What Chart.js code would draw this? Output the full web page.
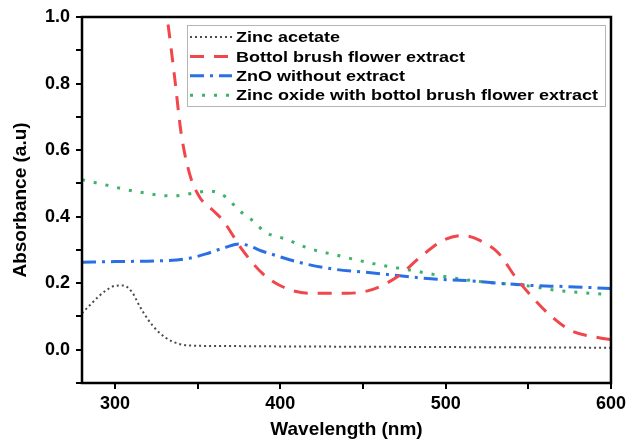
<!DOCTYPE html>
<html>
<head>
<meta charset="utf-8">
<script src="https://cdn.jsdelivr.net/npm/chart.js@4"></script>
<style>
  html, body { margin: 0; padding: 0; background: #fff; }
  #wrap { width: 630px; height: 441px; }
</style>
</head>
<body>
<div id="wrap"><canvas id="myChart" width="630" height="441"></canvas></div>
<script>
// Zinc acetate
const acetateWl = [280, 285, 290, 295, 300, 305, 310, 315, 320, 325, 330, 335, 340, 350, 370, 400, 450, 500, 550, 600];
const acetateAbs = [0.11, 0.135, 0.16, 0.18, 0.192, 0.193, 0.175, 0.13, 0.09, 0.06, 0.038, 0.024, 0.016, 0.012, 0.011, 0.01, 0.009, 0.008, 0.007, 0.006];

// Bottol brush flower extract
const brushWl = [328, 332, 336, 340, 345, 351, 359, 365, 377, 389, 401, 417, 441, 455, 471, 485, 499, 510, 520, 532, 542, 552, 564, 576, 592, 600];
const brushAbs = [1.12, 0.98, 0.82, 0.65, 0.53, 0.46, 0.42, 0.39, 0.30, 0.23, 0.19, 0.17, 0.17, 0.18, 0.22, 0.28, 0.33, 0.343, 0.33, 0.29, 0.22, 0.16, 0.10, 0.057, 0.037, 0.03];

// ZnO without extract
const znoWl = [280, 300, 331, 345, 355, 367, 375, 391, 411, 431, 451, 471, 491, 512, 532, 552, 572, 600];
const znoAbs = [0.263, 0.265, 0.268, 0.275, 0.288, 0.308, 0.318, 0.293, 0.263, 0.243, 0.233, 0.223, 0.213, 0.208, 0.2, 0.193, 0.19, 0.184];

// Zinc oxide with bottol brush flower extract
const greenWl = [280, 291, 311, 335, 347, 357, 367, 375, 383, 391, 403, 417, 435, 457, 480, 502, 524, 548, 568, 592, 600];
const greenAbs = [0.511, 0.499, 0.477, 0.462, 0.47, 0.477, 0.459, 0.419, 0.389, 0.353, 0.333, 0.305, 0.283, 0.258, 0.238, 0.218, 0.203, 0.193, 0.178, 0.168, 0.165];

const seriesLabels = ['Zinc acetate', 'Bottol brush flower extract', 'ZnO without extract', 'Zinc oxide with bottol brush flower extract'];

function pts(xs, ys) {
    return xs.map((x, i) => ({ x: x, y: ys[i] }));
}

const fontFam = '"Liberation Sans", Arial, Helvetica, sans-serif';

// marco negro alrededor del area
const framePlugin = {
    id: 'frame',
    afterDraw(chart) {
        const { ctx, chartArea: a } = chart;
        ctx.save();
        ctx.strokeStyle = '#000';
        ctx.lineWidth = 2.5;
        ctx.strokeRect(a.left, a.top, a.right - a.left, a.bottom - a.top);
        ctx.restore();
    }
};

// leyenda dentro del grafico, con caja gris
const boxLegend = {
    id: 'boxLegend',
    afterDraw(chart) {
        const ctx = chart.ctx;
        const x0 = 187, y0 = 25, x1 = 605, y1 = 106;
        ctx.save();
        ctx.fillStyle = '#fff';
        ctx.fillRect(x0, y0, x1 - x0, y1 - y0);
        ctx.strokeStyle = '#b5b5b5';
        ctx.lineWidth = 1;
        ctx.strokeRect(x0 + 0.5, y0 + 0.5, x1 - x0, y1 - y0);
        chart.data.datasets.forEach((ds, i) => {
            const y = 37 + i * 19.4;
            ctx.save();
            ctx.strokeStyle = ds.borderColor;
            ctx.lineWidth = ds.borderWidth;
            ctx.lineCap = ds.borderCapStyle || 'butt';
            ctx.setLineDash(ds.borderDash || []);
            ctx.beginPath();
            ctx.moveTo(190, y);
            ctx.lineTo(232, y);
            ctx.stroke();
            ctx.restore();

            ctx.save();
            ctx.translate(236, y);
            ctx.scale(1.2, 1);
            ctx.fillStyle = '#000';
            ctx.font = 'bold 15px ' + fontFam;
            ctx.textBaseline = 'middle';
            ctx.fillText(ds.label, 0, 1);
            ctx.restore();
        });
        ctx.restore();
    }
};

let myChart = document.getElementById('myChart').getContext('2d');

let chart = new Chart(myChart, {
    type: 'line',
    data: {
        datasets: [{
            label: seriesLabels[0],
            data: pts(acetateWl, acetateAbs),
            borderColor: '#4a4a4a',
            borderWidth: 2,
            borderDash: [2, 3],
            cubicInterpolationMode: 'monotone',
            pointRadius: 0,
            fill: false
        }, {
            label: seriesLabels[1],
            data: pts(brushWl, brushAbs),
            borderColor: '#f0464c',
            borderWidth: 3,
            borderDash: [14, 10],
            cubicInterpolationMode: 'monotone',
            pointRadius: 0,
            fill: false
        }, {
            label: seriesLabels[2],
            data: pts(znoWl, znoAbs),
            borderColor: '#2a6fe3',
            borderWidth: 3,
            borderDash: [14, 6, 3, 6],
            cubicInterpolationMode: 'monotone',
            pointRadius: 0,
            fill: false
        }, {
            label: seriesLabels[3],
            data: pts(greenWl, greenAbs),
            borderColor: '#3db36a',
            borderWidth: 3,
            borderDash: [3, 9],
            cubicInterpolationMode: 'monotone',
            pointRadius: 0,
            fill: false
        }]
    },
    options: {
        responsive: false,
        animation: false,
        events: [],
        layout: {
            padding: { left: 0, right: 17, top: 17, bottom: 0 }
        },
        plugins: {
            legend: { display: false },
            tooltip: { enabled: false }
        },
        scales: {
            x: {
                type: 'linear',
                min: 280,
                max: 600,
                border: { display: false },
                grid: {
                    drawOnChartArea: false,
                    drawTicks: true,
                    tickLength: 6,
                    color: '#000',
                    lineWidth: 2
                },
                ticks: {
                    stepSize: 50,
                    includeBounds: false,
                    autoSkip: false,
                    maxRotation: 0,
                    color: '#000',
                    padding: 4,
                    font: { family: fontFam, size: 18, weight: 'bold' },
                    callback: v => (v % 100 === 0 ? String(v) : '')
                },
                title: {
                    display: true,
                    text: 'Wavelength (nm)',
                    color: '#000',
                    font: { family: fontFam, size: 19, weight: 'bold' },
                    padding: { top: 0, bottom: 0 }
                },
                afterFit: s => { s.height = 58; }
            },
            y: {
                min: -0.1,
                max: 1.0,
                border: { display: false },
                grid: {
                    drawOnChartArea: false,
                    drawTicks: true,
                    tickLength: 6,
                    color: '#000',
                    lineWidth: 2
                },
                ticks: {
                    stepSize: 0.1,
                    autoSkip: false,
                    color: '#000',
                    padding: 6,
                    font: { family: fontFam, size: 18, weight: 'bold' },
                    callback: v => {
                        const t = Math.round(v * 10);
                        return (t >= 0 && t % 2 === 0) ? (t / 10).toFixed(1) : '';
                    }
                },
                title: {
                    display: true,
                    text: 'Absorbance (a.u)',
                    color: '#000',
                    font: { family: fontFam, size: 19, weight: 'bold' },
                    padding: { top: 9, bottom: 0 }
                },
                afterFit: s => { s.width = 82; }
            }
        }
    },
    plugins: [framePlugin, boxLegend]
});
</script>
</body>
</html>
